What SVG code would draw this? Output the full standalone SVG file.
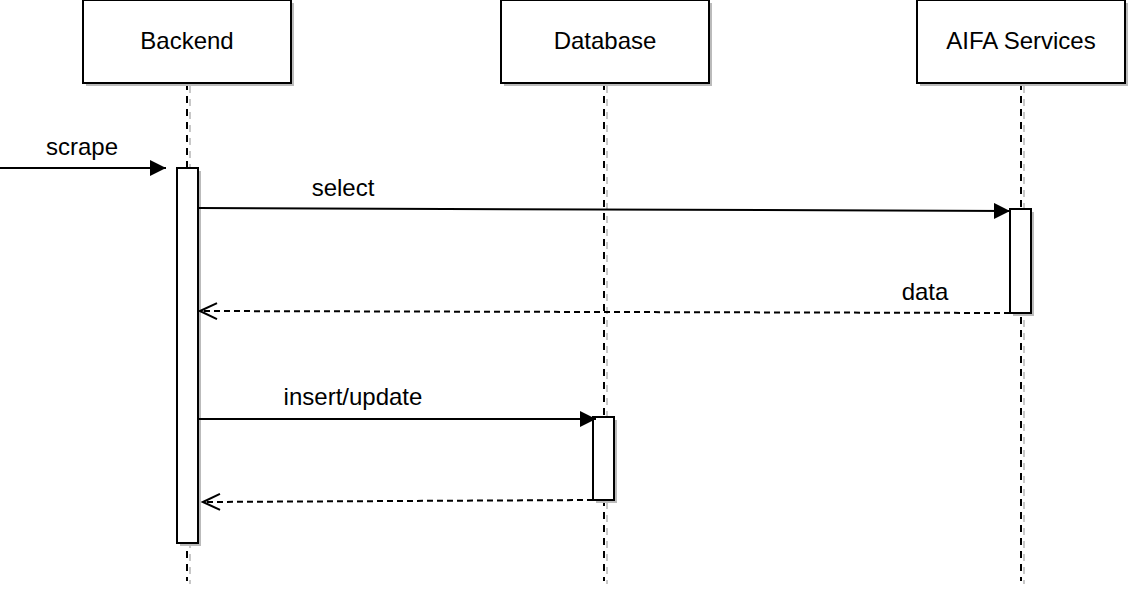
<svg xmlns="http://www.w3.org/2000/svg" width="1130" height="591" viewBox="0 0 1130 591">
  <style>
    .box { fill: #ffffff; stroke: #000000; stroke-width: 2; }
    .shadow { fill: #bbbbbb; stroke: none; }
    .label { font-family: "Liberation Sans", Arial, sans-serif; font-size: 24px; fill: #000000; text-anchor: middle; }
    .life { stroke: #000000; stroke-width: 2; stroke-dasharray: 7 6; fill: none; }
    .life-shadow { stroke: #c8c8c8; stroke-width: 2; stroke-dasharray: 7 6; fill: none; }
    .msg { stroke: #000000; stroke-width: 2; fill: none; }
    .ret { stroke: #000000; stroke-width: 2; stroke-dasharray: 6 4; fill: none; }
  </style>
  <defs>
    <marker id="block" viewBox="0 0 16 16" refX="16" refY="8" markerWidth="16" markerHeight="16" markerUnits="userSpaceOnUse" orient="auto">
      <path d="M0,0 L16,8 L0,16 Z" fill="#000000"/>
    </marker>
    <marker id="open" viewBox="0 0 20 20" refX="18" refY="10" markerWidth="20" markerHeight="20" markerUnits="userSpaceOnUse" orient="auto">
      <path d="M1,2 L18,10 L1,18" fill="none" stroke="#000000" stroke-width="2"/>
    </marker>
  </defs>

  <rect width="1130" height="591" fill="#ffffff"/>

  <!-- Backend lifeline -->
  <g id="backend">
    <line class="life-shadow" x1="190" y1="86" x2="190" y2="584"/>
    <line class="life" x1="187" y1="83" x2="187" y2="581"/>
    <rect class="shadow" x="86" y="3" width="208" height="83"/>
    <rect class="box" x="83" y="0" width="208" height="83"/>
    <text class="label" x="187" y="49">Backend</text>
    <rect class="shadow" x="180" y="171" width="21" height="375"/>
    <rect class="box" x="177" y="168" width="21" height="375"/>
  </g>

  <!-- Database lifeline -->
  <g id="database">
    <line class="life-shadow" x1="607" y1="86" x2="607" y2="584"/>
    <line class="life" x1="604" y1="83" x2="604" y2="581"/>
    <rect class="shadow" x="504" y="3" width="208" height="83"/>
    <rect class="box" x="501" y="0" width="208" height="83"/>
    <text class="label" x="605" y="49">Database</text>
    <rect class="shadow" x="596" y="420" width="21" height="83"/>
    <rect class="box" x="593" y="417" width="21" height="83"/>
  </g>

  <!-- AIFA Services lifeline -->
  <g id="aifa">
    <line class="life-shadow" x1="1024" y1="86" x2="1024" y2="584"/>
    <line class="life" x1="1021" y1="83" x2="1021" y2="581"/>
    <rect class="shadow" x="920" y="3" width="208" height="83"/>
    <rect class="box" x="917" y="0" width="208" height="83"/>
    <text class="label" x="1021" y="49">AIFA Services</text>
    <rect class="shadow" x="1013" y="212" width="21" height="104"/>
    <rect class="box" x="1010" y="209" width="21" height="104"/>
  </g>

  <!-- Messages -->
  <g id="connectors">
    <line class="msg" x1="0" y1="168" x2="166" y2="168" marker-end="url(#block)"/>
    <text class="label" x="82" y="155">scrape</text>

    <line class="msg" x1="198" y1="208" x2="1010" y2="211" marker-end="url(#block)"/>
    <text class="label" x="343" y="196">select</text>

    <line class="ret" x1="1010" y1="313" x2="200" y2="311" marker-end="url(#open)"/>
    <text class="label" x="925" y="300">data</text>

    <line class="msg" x1="198" y1="419" x2="596" y2="419" marker-end="url(#block)"/>
    <text class="label" x="353" y="405">insert/update</text>

    <line class="ret" x1="593" y1="500" x2="203" y2="502" marker-end="url(#open)"/>
  </g>
</svg>
